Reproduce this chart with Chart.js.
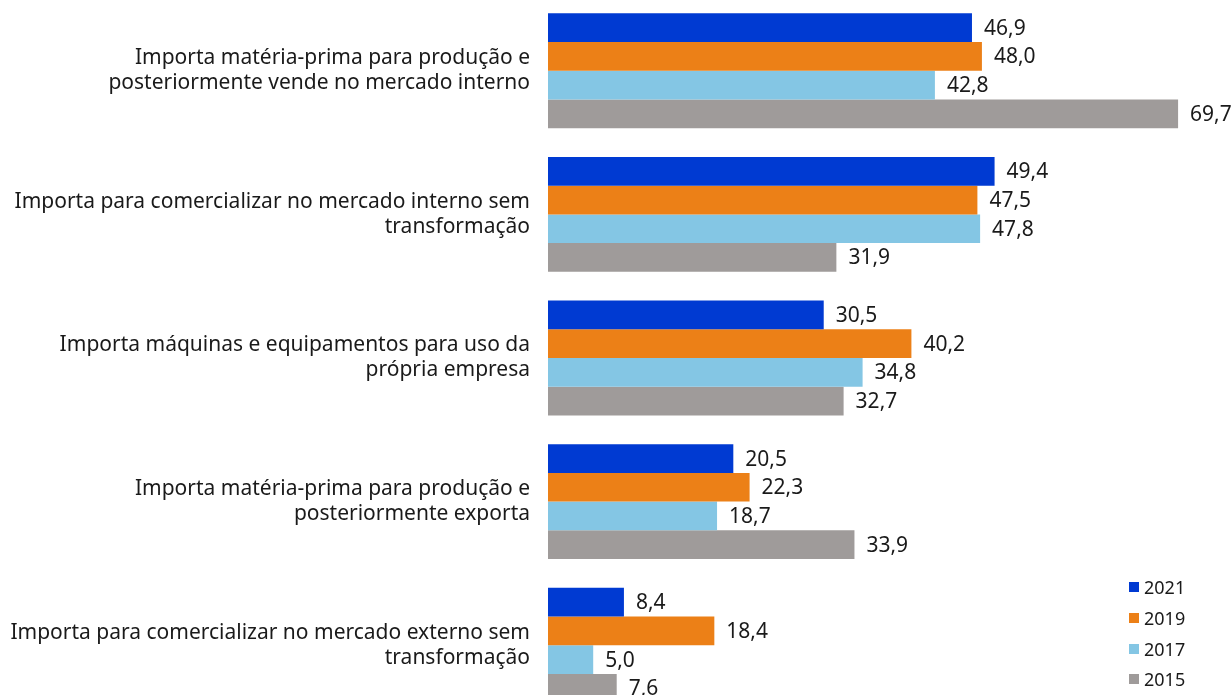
<!DOCTYPE html>
<html>
<head>
<meta charset="utf-8">
<script src="https://cdn.jsdelivr.net/npm/chart.js@4"></script>
<style>
  html, body { margin: 0; padding: 0; background: #fff; overflow: hidden; }
  #wrap { position: absolute; left: 0; top: -1px; width: 1232px; height: 718px; }
  #legend { position: absolute; left: 1129px; top: 572px; font-family: "Noto Sans", sans-serif; font-size: 18px; color: #1a1a1a; }
  #legend div { height: 30.7px; display: flex; align-items: center; }
  #legend span { display: inline-block; width: 10px; height: 10px; margin-right: 5px; }
</style>
</head>
<body>
<div id="wrap"><canvas id="barChart"></canvas></div>
<div id="legend"></div>
<script>
const categories = [
  ['Importa matéria-prima para produção e', 'posteriormente vende no mercado interno'],
  ['Importa para comercializar no mercado interno sem', 'transformação'],
  ['Importa máquinas e equipamentos para uso da', 'própria empresa'],
  ['Importa matéria-prima para produção e', 'posteriormente exporta'],
  ['Importa para comercializar no mercado externo sem', 'transformação']
];
const years = ['2021', '2019', '2017', '2015'];
const values2021 = [46.9, 49.4, 30.5, 20.5, 8.4];
const values2019 = [48.0, 47.5, 40.2, 22.3, 18.4];
const values2017 = [42.8, 47.8, 34.8, 18.7, 5.0];
const values2015 = [69.7, 31.9, 32.7, 33.9, 7.6];
const colors = ['#003ad2', '#ec8017', '#84c6e4', '#9f9b9a'];

const series = [values2021, values2019, values2017, values2015];

// value labels at the end of every bar, decimal comma
const valueLabels = {
  id: 'valueLabels',
  afterDatasetsDraw(chart) {
    const ctx = chart.ctx;
    ctx.save();
    ctx.font = '21px "Noto Sans", sans-serif';
    ctx.fillStyle = '#1a1a1a';
    ctx.textAlign = 'left';
    ctx.textBaseline = 'middle';
    chart.data.datasets.forEach((ds, i) => {
      chart.getDatasetMeta(i).data.forEach((bar, j) => {
        ctx.fillText(ds.data[j].toFixed(1).replace('.', ','), bar.x + 12, bar.y + 1);
      });
    });
    ctx.restore();
  }
};

const barCtx = document.getElementById('barChart').getContext('2d');
const chart = new Chart(barCtx, {
  type: 'bar',
  data: {
    labels: categories,
    datasets: years.map((y, i) => ({
      label: y,
      data: series[i],
      backgroundColor: colors[i],
      categoryPercentage: 0.8,
      barPercentage: 1.0
    }))
  },
  options: {
    indexAxis: 'y',
    responsive: true,
    maintainAspectRatio: false,
    animation: false,
    layout: { padding: { top: 0, bottom: 0, left: 0, right: 6 } },
    plugins: {
      legend: { display: false },
      tooltip: { enabled: false }
    },
    scales: {
      x: {
        min: 0,
        max: 75,
        display: false
      },
      y: {
        grid: { display: false, drawTicks: false },
        border: { display: false },
        afterFit(scale) {
          scale.width = 548;
          // the labels sit inside their bands, no extra room needed
          scale.paddingTop = 0;
          scale.paddingBottom = 0;
        },
        ticks: {
          padding: 18,
          color: '#1a1a1a',
          font: { family: '"Noto Sans", sans-serif', size: 21, lineHeight: '25px' }
        }
      }
    }
  },
  plugins: [valueLabels]
});

// legend in the lower right corner
const legend = document.getElementById('legend');
years.forEach((y, i) => {
  const row = document.createElement('div');
  row.innerHTML = '<span style="background:' + colors[i] + '"></span>' + y;
  legend.appendChild(row);
});
</script>
</body>
</html>
